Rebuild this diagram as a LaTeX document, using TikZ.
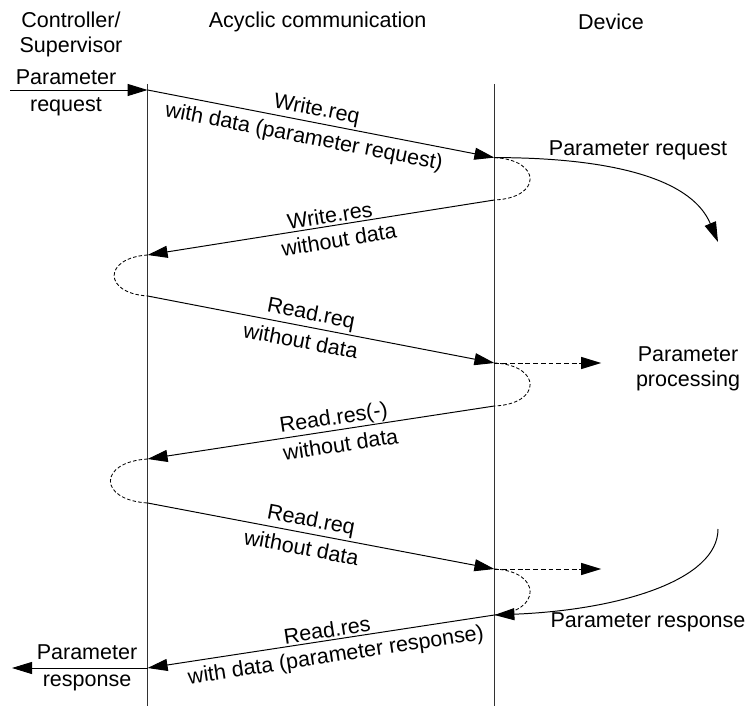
\documentclass[tikz,border=0pt]{standalone}
\usepackage{fontspec}
\setmainfont{Liberation Sans}
\usetikzlibrary{arrows.meta}
\definecolor{lifegray}{RGB}{50,50,50}

\begin{document}
\begin{tikzpicture}[
    msg/.style={
        -{Triangle[length=5mm, width=3mm]},
        line width=0.7pt
    },
    hint/.style={
        -{Triangle[length=5mm, width=3mm]},
        line width=0.7pt,
        dash pattern=on 3.5pt off 2pt
    },
    waitloop/.style={line width=0.6pt, dash pattern=on 2.5pt off 1.5pt},
    lifeline/.style={line width=0.7pt, draw=lifegray},
    lbltop/.style={sloped, above, inner sep=1.5pt},
    lblbot/.style={sloped, below, inner sep=4.5pt},
    every node/.style={font=\fontsize{15.3}{17.8}\selectfont, align=center}
]
\useasboundingbox (0,0) rectangle (18.65,-17.65);

% =================== Headers ===================
\node (ctlhead) at (1.775,-0.86) {Controller/\\Supervisor};
\node (comhead) at (7.94,-0.55) {Acyclic communication};
\node (devhead) at (15.275,-0.55) {Device};

% =================== Lifelines ===================
\coordinate (ctltop) at (3.69,-2.1);
\coordinate (ctlbot) at (3.69,-17.65);
\coordinate (devtop) at (12.36,-2.1);
\coordinate (devbot) at (12.36,-17.65);
\draw[lifeline] (ctltop) -- (ctlbot);
\draw[lifeline] (devtop) -- (devbot);

% points on the controller side
\coordinate (ctlA) at (3.69,-2.25);
\coordinate (ctlB) at (3.69,-6.375);
\coordinate (ctlC) at (3.69,-7.4);
\coordinate (ctlD) at (3.69,-11.475);
\coordinate (ctlE) at (3.69,-12.575);
\coordinate (ctlF) at (3.69,-16.7);
% points on the device side
\coordinate (devA) at (12.36,-3.94);
\coordinate (devB) at (12.36,-5.0);
\coordinate (devC) at (12.36,-9.075);
\coordinate (devD) at (12.36,-10.15);
\coordinate (devE) at (12.36,-14.225);
\coordinate (devF) at (12.36,-15.375);
% free ends
\coordinate (reqin) at (0.25,-2.25);
\coordinate (rspout) at (0.3,-16.7);
\coordinate (procA) at (15.03,-9.075);
\coordinate (procB) at (15.03,-14.225);
\coordinate (reqend) at (17.95,-6.05);
\coordinate (rspstart) at (17.95,-13.225);

% =================== Controller side ===================
\node (reqleft) at (1.65,-2.33) {Parameter\\[0.05cm]request};
\draw[msg] (reqin) -- (ctlA);
\node (rspleft) at (2.175,-16.69) {Parameter\\[0.05cm]response};
\draw[msg] (ctlF) -- (rspout);

% =================== Messages ===================
\draw[msg] (ctlA) -- node[lbltop, pos=0.48] {Write.req}
    node[lblbot, pos=0.46] {with data (parameter request)} (devA);
\draw[msg] (devB) -- node[lbltop, pos=0.47] {Write.res}
    node[lblbot, pos=0.455] {without data} (ctlB);
\draw[msg] (ctlC) -- node[lbltop, pos=0.464] {Read.req}
    node[lblbot, pos=0.45] {without data} (devC);
\draw[msg] (devD) -- node[lbltop, pos=0.458, inner sep=0.5pt] {Read.res(-)}
    node[lblbot, pos=0.45] {without data} (ctlD);
\draw[msg] (ctlE) -- node[lbltop, pos=0.464] {Read.req}
    node[lblbot, pos=0.452] {without data} (devE);
\draw[msg] (devF) -- node[lbltop, pos=0.478] {Read.res}
    node[lblbot, pos=0.464] {with data (parameter response)} (ctlF);

% =================== Waiting loops ===================
\draw[waitloop] (devA) .. controls (13.55,-4.0) and (13.55,-4.95) .. (devB);
\draw[waitloop] (ctlB) .. controls (2.575,-6.45) and (2.575,-7.33) .. (ctlC);
\draw[waitloop] (devC) .. controls (13.55,-9.13) and (13.55,-10.1) .. (devD);
\draw[waitloop] (ctlD) .. controls (2.45,-11.55) and (2.45,-12.5) .. (ctlE);
\draw[waitloop] (devE) .. controls (13.55,-14.28) and (13.55,-15.3) .. (devF);

% =================== Device side ===================
\node (reqright) at (15.95,-3.75) {Parameter request};
\draw[msg] (devA) .. controls (15.0,-3.94) and (17.25,-4.375) .. (reqend);
\node (proc) at (17.2,-9.225) {Parameter\\processing};
\draw[hint] (devC) -- (procA);
\draw[hint] (devE) -- (procB);
\node (rspright) at (16.2,-15.55) {Parameter response};
\draw[msg] (rspstart) .. controls (17.95,-14.5) and (15.5,-15.25) .. (devF);

\end{tikzpicture}
\end{document}
